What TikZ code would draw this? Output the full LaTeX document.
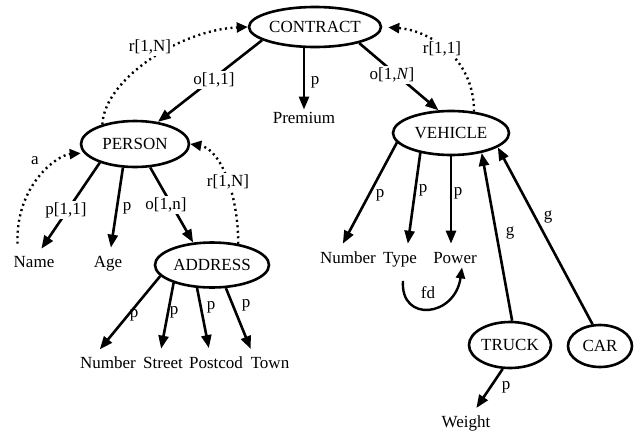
\documentclass[tikz,border=0pt]{standalone}
\usepackage{fontspec}
\setmainfont{Liberation Serif}
\usetikzlibrary{shapes.geometric,arrows.meta,calc}
\begin{document}
\begin{tikzpicture}[x=1pt,y=-1pt,
  font=\fontsize{17}{19}\selectfont,
  ent/.style={ellipse,draw,line width=2.6pt,inner sep=0pt},
  txt/.style={inner sep=2pt,anchor=base},
  lab/.style={inner sep=1pt},
  onlab/.style={inner sep=1.5pt,fill=white},
  arr/.style={line width=2.6pt,-{Triangle[length=13pt,width=10pt]}},
  dotarr/.style={line width=2.4pt,dash pattern=on 2pt off 3.5pt,-{Triangle[length=11pt,width=10pt]}},
  gap/.style={shorten >=6pt}]
\useasboundingbox (0,0) rectangle (634,434);
% entity ellipses
\node[ent,minimum width=132pt,minimum height=40pt] (CONTRACT) at (315,27) {CONTRACT};
\node[ent,minimum width=108pt,minimum height=46pt] (PERSON) at (135,144) {PERSON};
\node[ent,minimum width=116pt,minimum height=44pt] (VEHICLE) at (451,133) {VEHICLE};
\node[ent,minimum width=114pt,minimum height=45pt] (ADDRESS) at (212,265) {ADDRESS};
\node[ent,minimum width=82pt,minimum height=46pt] (TRUCK) at (510,345) {TRUCK};
\node[ent,minimum width=64pt,minimum height=42pt] (CAR) at (600,346) {CAR};
% attribute texts
\node[txt] (Premium) at (304,123) {Premium};
\node[txt] (Name) at (34,267) {Name};
\node[txt] (Age) at (108,267) {Age};
\node[txt] (ANumber) at (108,368) {Number};
\node[txt] (Street) at (163,368) {Street};
\node[txt] (Postcod) at (216,368) {Postcod};
\node[txt] (Town) at (270,368) {Town};
\node[txt] (VNumber) at (348,263) {Number};
\node[txt] (Type) at (400,263) {Type};
\node[txt] (Power) at (455,263) {Power};
\node[txt] (Weight) at (466,427) {Weight};
% CONTRACT edges
\draw[arr] (CONTRACT.194) -- (PERSON.44);
\draw[arr] (Premium.north |- CONTRACT.south) -- (Premium.north);
\draw[arr] (CONTRACT.-20) -- (VEHICLE.119);
\draw[dotarr] (PERSON.149) .. controls +(2,-45) and +(-68,3) .. (CONTRACT.west);
\draw[dotarr,shorten >=6pt] (VEHICLE.43) .. controls +(0,-55) and +(45,3) .. (CONTRACT.east);
% PERSON edges
\draw[dotarr,shorten >=3pt] ($(Name.north west)+(6,-10)$) .. controls +(-2,-58) and +(-27,2) .. (PERSON.190);
\draw[arr,gap] (PERSON.208) -- ($(Name.north)+(4,0)$);
\draw[arr,gap] (PERSON.243) -- ($(Age.north)+(2,0)$);
\draw[arr] (PERSON.303) -- (ADDRESS.130);
\draw[dotarr] (ADDRESS.39) .. controls +(0,-50) and +(30,5) .. (PERSON.east);
% ADDRESS edges
\draw[arr,gap] (ADDRESS.192) -- ($(ANumber.north)+(-12,0)$);
\draw[arr,gap] (ADDRESS.205) -- ($(Street.north)+(-3,0)$);
\draw[arr,gap] (ADDRESS.237) -- ($(Postcod.north)+(-6,0)$);
\draw[arr,gap] (ADDRESS.301) -- ($(Town.north)+(-17,0)$);
% VEHICLE edges
\draw[arr,gap] (VEHICLE.190) -- ($(VNumber.north)+(-8,0)$);
\draw[arr,gap] (VEHICLE.213) -- ($(Type.north)+(7,0)$);
\draw[arr,gap] (VEHICLE.south) -- (VEHICLE.south |- Power.north);
\draw[arr] (TRUCK.85) -- (VEHICLE.-33);
\draw[arr] (CAR.109) -- (VEHICLE.-17);
\draw[arr,gap] (TRUCK.253) -- ($(Weight.north)+(7,0)$);
\draw[line width=2.4pt,-{Triangle[length=11pt,width=9pt]}] ($(Type.south)+(3,12)$) .. controls +(-3,42) and +(-7,50) .. ($(Power.south)+(7,2)$);
% labels
\node[onlab] at (214,80) {o[1,1]};
\node[lab] at (315,82) {p};
\node[onlab] at (392,75) {o[1,\textit{N}]};
\node[onlab] at (150,47) {r[1,N]};
\node[onlab] at (442,49) {r[1,1]};
\node[lab] at (35,161) {a};
\node[onlab] at (66,210) {p[1,1]};
\node[lab] at (127,208) {p};
\node[onlab] at (166,205) {o[1,n]};
\node[onlab] at (228,182) {r[1,N]};
\node[lab] at (134,315) {p};
\node[lab] at (174,312) {p};
\node[lab] at (211,307) {p};
\node[lab] at (246,305) {p};
\node[lab] at (380,195) {p};
\node[lab] at (423,190) {p};
\node[lab] at (458,193) {p};
\node[lab] at (510,233) {g};
\node[lab] at (548,217) {g};
\node[lab] at (428,293) {fd};
\node[lab] at (506,387) {p};
\end{tikzpicture}
\end{document}
